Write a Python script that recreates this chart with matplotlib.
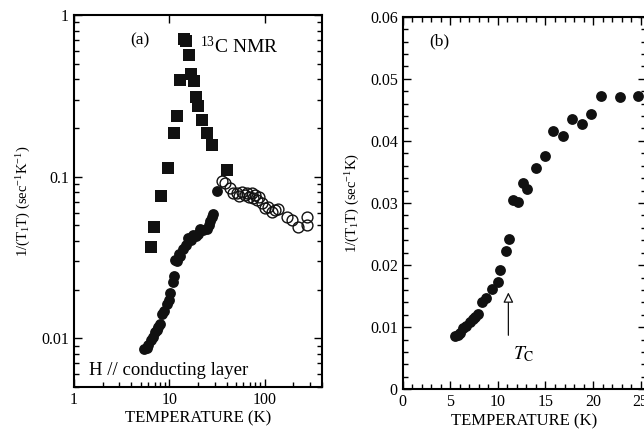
import numpy as np
import matplotlib
matplotlib.use('Agg')
import matplotlib.pyplot as plt
from matplotlib.ticker import LogLocator, FuncFormatter, MultipleLocator, NullFormatter

plt.rcParams['font.family'] = ['Liberation Serif', 'DejaVu Serif']
plt.rcParams['mathtext.fontset'] = 'stix'
plt.rcParams['mathtext.default'] = 'regular'

# ---------- data ----------
# (b) filled circles, linear scale (also used in (a))
T_b = [5.49, 5.8, 6.0, 6.37, 6.7, 7.07, 7.4, 7.6, 7.9, 8.3, 8.8, 9.35, 10.04, 10.25,
       10.85, 11.2, 11.54, 12.1, 12.6, 13.08, 13.99, 14.9, 15.8, 16.85, 17.8, 18.85,
       19.8, 20.87, 22.8, 24.7]
v_b = [0.0086, 0.0087, 0.0091, 0.0098, 0.0102, 0.0109, 0.0113, 0.0117, 0.0122, 0.0141,
       0.0147, 0.0162, 0.0173, 0.0192, 0.0223, 0.0242, 0.0305, 0.0301, 0.0332, 0.0322,
       0.0356, 0.0376, 0.0416, 0.0408, 0.0435, 0.0428, 0.0443, 0.0473, 0.0471, 0.0473]

# (a) extra filled circles above 25 K
T_a_hi = [26.0, 27.0, 28.0, 29.0, 31.5]
v_a_hi = [0.050, 0.053, 0.056, 0.059, 0.082]

# (a) open circles
T_open = [35.6, 38.6, 43.5, 47.1, 51.2, 54.5, 57.8, 62.6, 65.2, 69.4, 73.6, 76.4, 79.7,
          84.2, 88.4, 93.7, 101.5, 109.9, 119.3, 129.2, 140, 174, 194, 227, 278, 282]
v_open = [0.0944, 0.0914, 0.0848, 0.0796, 0.0789, 0.0760, 0.0807, 0.0770, 0.0789, 0.0752,
          0.0789, 0.0735, 0.0770, 0.0718, 0.0752, 0.0685, 0.0638, 0.0653, 0.0608, 0.0622,
          0.0628, 0.0566, 0.0540, 0.0491, 0.0566, 0.0503]

# (a) filled squares
T_sq = [6.4, 6.98, 8.27, 9.6, 11.2, 12.0, 13.0, 14.3, 14.9, 16.2, 16.8, 18.2, 19.1,
        20.2, 21.9, 24.8, 28.2, 40.2]
v_sq = [0.0369, 0.049, 0.0759, 0.1137, 0.187, 0.238, 0.396, 0.707, 0.694, 0.563, 0.430,
        0.391, 0.313, 0.274, 0.224, 0.185, 0.156, 0.11]

fig = plt.figure(figsize=(6.44, 4.43), dpi=100)
ax1 = fig.add_axes([0.1149, 0.1264, 0.385, 0.8397])
ax2 = fig.add_axes([0.6253, 0.1212, 0.3777, 0.8411])

col = '#111111'

# ---------- (a) ----------
ax1.plot(T_sq, v_sq, 's', color=col, ms=8.5, mew=0)
ax1.plot(T_b + T_a_hi, v_b + v_a_hi, 'o', color=col, ms=7.8, mew=0)
ax1.plot(T_open, v_open, 'o', mfc='none', mec=col, ms=7.8, mew=1.0)
ax1.set_xscale('log')
ax1.set_yscale('log')
ax1.set_xlim(1, 400)
ax1.set_ylim(0.005, 1)
fmt = FuncFormatter(lambda v, p: '%g' % v)
ax1.xaxis.set_major_formatter(fmt)
ax1.yaxis.set_major_formatter(fmt)
ax1.xaxis.set_minor_formatter(NullFormatter())
ax1.yaxis.set_minor_formatter(NullFormatter())
ax1.yaxis.set_minor_locator(LogLocator(base=10, subs=np.arange(2, 10)))
ax1.xaxis.set_minor_locator(LogLocator(base=10, subs=np.arange(2, 10)))
ax1.tick_params(which='both', direction='in', right=True, labelsize=11.5)
ax1.tick_params(which='major', length=6, width=1, top=True)
ax1.tick_params(which='minor', length=3.5, width=1, top=False)
ax1.set_xlabel('TEMPERATURE (K)', fontsize=12, labelpad=2)
ax1.set_ylabel('1/(T$_1$T) (sec$^{-1}$K$^{-1}$)', fontsize=10.5, labelpad=6)
ax1.text(0.266, 0.933, '(a)', transform=ax1.transAxes, fontsize=12.5, ha='center', va='center')
ax1.text(0.51, 0.915, '$^{13}$C NMR', transform=ax1.transAxes, fontsize=14, ha='left', va='center')
ax1.text(0.06, 0.045, 'H // conducting layer', transform=ax1.transAxes, fontsize=13.5, ha='left', va='center')

# ---------- (b) ----------
ax2.plot(T_b, v_b, 'o', color=col, ms=7.8, mew=0)
ax2.set_xlim(0, 25.55)
ax2.set_ylim(0, 0.06)
ax2.xaxis.set_major_locator(MultipleLocator(5))
ax2.xaxis.set_minor_locator(MultipleLocator(1))
ax2.yaxis.set_major_locator(MultipleLocator(0.01))
ax2.yaxis.set_minor_locator(MultipleLocator(0.002))
ax2.yaxis.set_major_formatter(FuncFormatter(lambda v, p: '0' if v == 0 else '%.2f' % v))
ax2.tick_params(which='both', direction='in', right=True, top=True, labelsize=11.5)
ax2.tick_params(which='major', length=6, width=1)
ax2.tick_params(which='minor', length=3.5, width=1)
ax2.set_xlabel('TEMPERATURE (K)', fontsize=12, labelpad=2)
ax2.set_ylabel('1/(T$_1$T) (sec$^{-1}$K)', fontsize=10.5, labelpad=6)
ax2.text(0.15, 0.935, '(b)', transform=ax2.transAxes, fontsize=12.5, ha='center', va='center')
ax2.annotate('', xy=(11.1, 0.0156), xytext=(11.1, 0.0087),
             arrowprops=dict(arrowstyle='-|>,head_length=0.6,head_width=0.3', fc='white',
                             ec=col, lw=0.9, shrinkA=0, shrinkB=0))
ax2.text(12.7, 0.0056, r'$\mathit{T}_{\rm C}$', fontsize=14, ha='center', va='center')

for ax in (ax1, ax2):
    for s in ax.spines.values():
        s.set_linewidth(1.5)

plt.savefig('out.png', dpi=100)
